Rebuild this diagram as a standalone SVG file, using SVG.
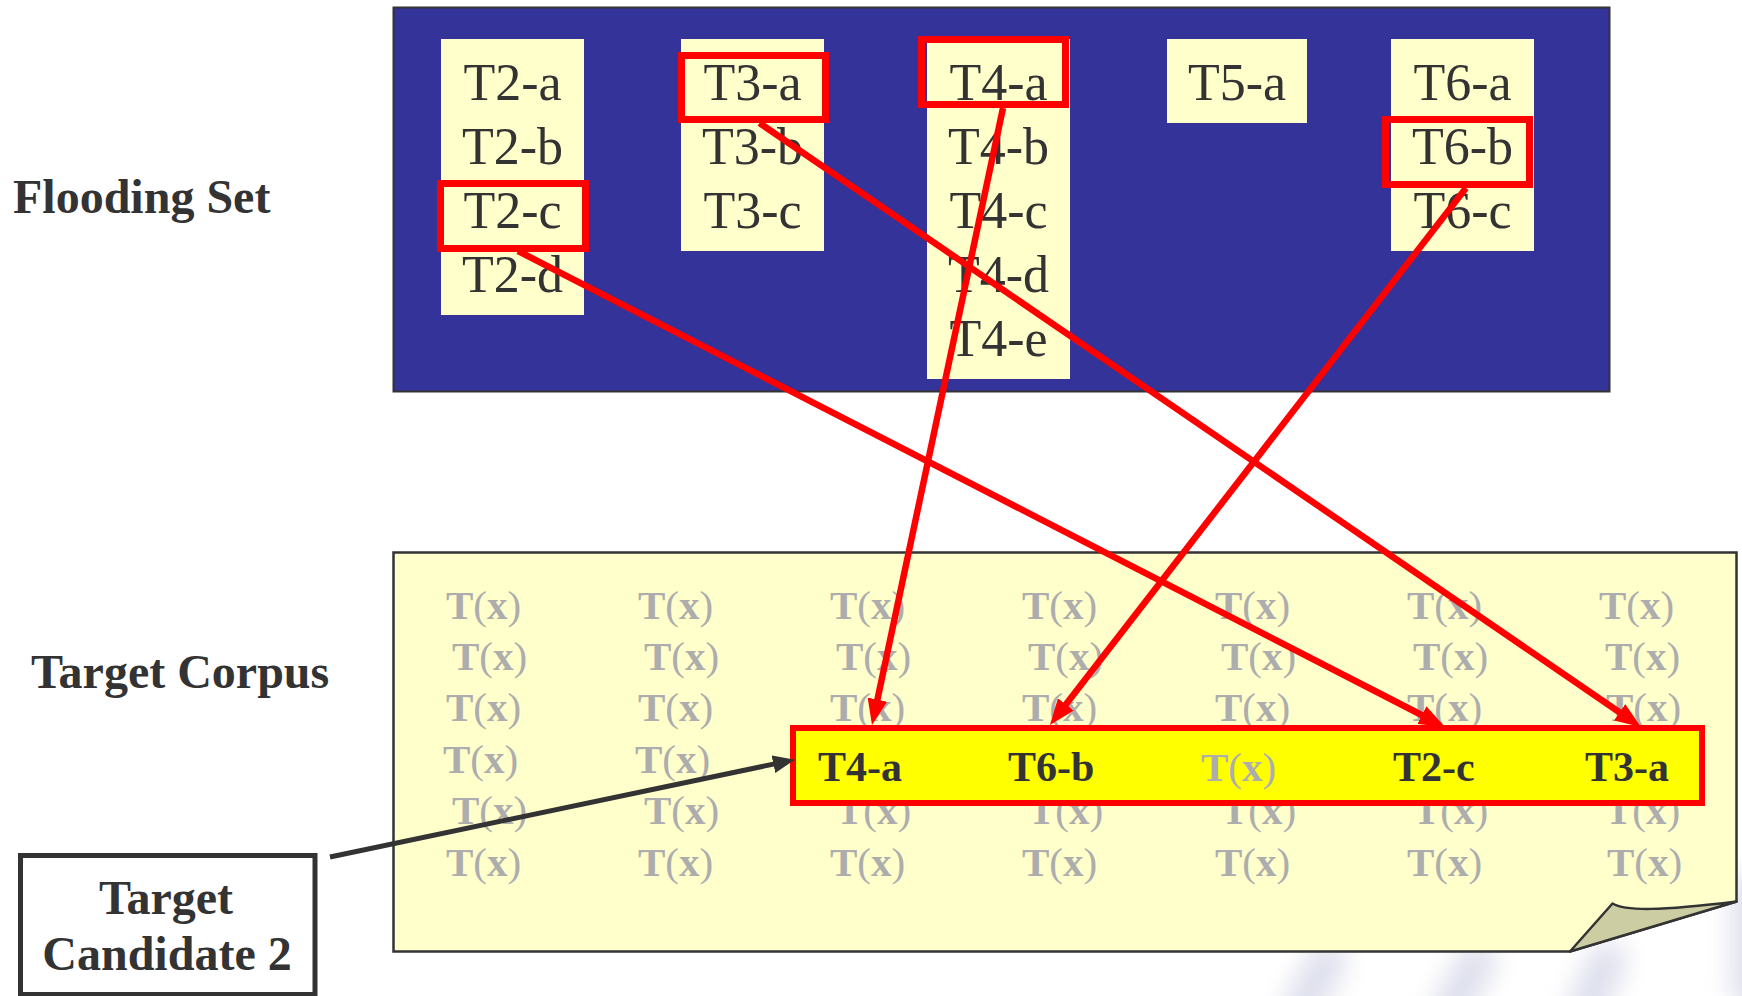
<svg xmlns="http://www.w3.org/2000/svg" width="1742" height="996" viewBox="0 0 1742 996">
<defs>
<style>
.lbl{font-family:"Liberation Serif","Times New Roman",serif;font-weight:bold;font-size:48px;fill:#333333}
.ft{font-family:"Liberation Serif","Times New Roman",serif;font-size:52px;fill:#333333;text-anchor:middle}
.col{fill:#FFFFCC}
.sel{fill:none;stroke:#FF0000;stroke-width:7}
.tx{font-family:"Liberation Serif","Times New Roman",serif;font-weight:bold;font-size:41px;fill:#ADADAD}
.tx .p{font-weight:normal}
.bt{font-family:"Liberation Serif","Times New Roman",serif;font-weight:bold;font-size:42px;fill:#333333}
.red{stroke:#FF0000;stroke-width:6.5;fill:none}
.blk{stroke:#333333;stroke-width:5;fill:none}
</style>
<marker id="ar" markerUnits="userSpaceOnUse" markerWidth="26" markerHeight="20" refX="14" refY="10" orient="auto">
<path d="M0,0 L26,10 L0,20 Z" fill="#FF0000"/>
</marker>
<marker id="ab" markerUnits="userSpaceOnUse" markerWidth="22" markerHeight="18" refX="10" refY="9" orient="auto">
<path d="M0,0 L22,9 L0,18 Z" fill="#333333"/>
</marker>
<filter id="blur" x="-100%" y="-100%" width="300%" height="300%"><feGaussianBlur stdDeviation="13"/></filter>
</defs>
<rect width="1742" height="996" fill="#FFFFFF"/>

<g id="watermark" filter="url(#blur)" stroke="#D6D8E8" stroke-width="36" stroke-linecap="round" opacity="0.85">
<line x1="1300" y1="1010" x2="1328" y2="960"/>
<line x1="1450" y1="1010" x2="1478" y2="960"/>
<line x1="1585" y1="1010" x2="1608" y2="960"/>
<line x1="1750" y1="990" x2="1750" y2="890"/>
</g>

<g id="label-flooding"><text class="lbl" x="13" y="213">Flooding Set</text></g>
<g id="label-corpus"><text class="lbl" x="31" y="688">Target Corpus</text></g>

<g id="flooding-set">
<rect x="393.5" y="7.5" width="1216" height="384" fill="#333399" stroke="#333333" stroke-width="2"/>
</g>

<g id="T2">
<rect class="col" x="441" y="39" width="143" height="276"/>
<text class="ft" x="512.5" y="100">T2-a</text>
<text class="ft" x="512.5" y="164">T2-b</text>
<text class="ft" x="512.5" y="228">T2-c</text>
<text class="ft" x="512.5" y="292">T2-d</text>
<rect class="sel" x="440.5" y="183.5" width="145" height="65"/>
</g>
<g id="T3">
<rect class="col" x="681" y="39" width="143" height="212"/>
<text class="ft" x="752.5" y="100">T3-a</text>
<text class="ft" x="752.5" y="164">T3-b</text>
<text class="ft" x="752.5" y="228">T3-c</text>
<rect class="sel" x="681.5" y="55.5" width="144" height="64"/>
</g>
<g id="T4">
<rect class="col" x="927" y="39" width="143" height="340"/>
<text class="ft" x="998.5" y="100">T4-a</text>
<text class="ft" x="998.5" y="164">T4-b</text>
<text class="ft" x="998.5" y="228">T4-c</text>
<text class="ft" x="998.5" y="292">T4-d</text>
<text class="ft" x="998.5" y="356">T4-e</text>
<rect class="sel" x="921.5" y="39.5" width="144" height="65"/>
</g>
<g id="T5">
<rect class="col" x="1167" y="39" width="140" height="84"/>
<text class="ft" x="1237" y="100">T5-a</text>
</g>
<g id="T6">
<rect class="col" x="1391" y="39" width="143" height="212"/>
<text class="ft" x="1462.5" y="100">T6-a</text>
<text class="ft" x="1462.5" y="164">T6-b</text>
<text class="ft" x="1462.5" y="228">T6-c</text>
<rect class="sel" x="1385.5" y="119.5" width="144" height="65"/>
</g>

<g id="target-corpus">
<path d="M393.5,552.5 H1736.5 V901.5 L1570,951.5 H393.5 Z" fill="#FFFFCC" stroke="#333333" stroke-width="2.5"/>
<path d="M1570,951.5 L1612.5,903.5 C1625,911 1660,911 1736.5,901.5 Z" fill="#CDCDA4" stroke="#333333" stroke-width="2.5" stroke-linejoin="round"/>
<g id="grid">
<text class="tx" x="446" y="619">T<tspan class="p">(</tspan>x<tspan class="p">)</tspan></text>
<text class="tx" x="638" y="619">T<tspan class="p">(</tspan>x<tspan class="p">)</tspan></text>
<text class="tx" x="830" y="619">T<tspan class="p">(</tspan>x<tspan class="p">)</tspan></text>
<text class="tx" x="1022" y="619">T<tspan class="p">(</tspan>x<tspan class="p">)</tspan></text>
<text class="tx" x="1215" y="619">T<tspan class="p">(</tspan>x<tspan class="p">)</tspan></text>
<text class="tx" x="1407" y="619">T<tspan class="p">(</tspan>x<tspan class="p">)</tspan></text>
<text class="tx" x="1599" y="619">T<tspan class="p">(</tspan>x<tspan class="p">)</tspan></text>

<text class="tx" x="452" y="670">T<tspan class="p">(</tspan>x<tspan class="p">)</tspan></text>
<text class="tx" x="644" y="670">T<tspan class="p">(</tspan>x<tspan class="p">)</tspan></text>
<text class="tx" x="836" y="670">T<tspan class="p">(</tspan>x<tspan class="p">)</tspan></text>
<text class="tx" x="1028" y="670">T<tspan class="p">(</tspan>x<tspan class="p">)</tspan></text>
<text class="tx" x="1221" y="670">T<tspan class="p">(</tspan>x<tspan class="p">)</tspan></text>
<text class="tx" x="1413" y="670">T<tspan class="p">(</tspan>x<tspan class="p">)</tspan></text>
<text class="tx" x="1605" y="670">T<tspan class="p">(</tspan>x<tspan class="p">)</tspan></text>

<text class="tx" x="446" y="721">T<tspan class="p">(</tspan>x<tspan class="p">)</tspan></text>
<text class="tx" x="638" y="721">T<tspan class="p">(</tspan>x<tspan class="p">)</tspan></text>
<text class="tx" x="830" y="721">T<tspan class="p">(</tspan>x<tspan class="p">)</tspan></text>
<text class="tx" x="1022" y="721">T<tspan class="p">(</tspan>x<tspan class="p">)</tspan></text>
<text class="tx" x="1215" y="721">T<tspan class="p">(</tspan>x<tspan class="p">)</tspan></text>
<text class="tx" x="1407" y="721">T<tspan class="p">(</tspan>x<tspan class="p">)</tspan></text>
<text class="tx" x="1606" y="721">T<tspan class="p">(</tspan>x<tspan class="p">)</tspan></text>

<text class="tx" x="443" y="773">T<tspan class="p">(</tspan>x<tspan class="p">)</tspan></text>
<text class="tx" x="635" y="773">T<tspan class="p">(</tspan>x<tspan class="p">)</tspan></text>

<text class="tx" x="452" y="824">T<tspan class="p">(</tspan>x<tspan class="p">)</tspan></text>
<text class="tx" x="644" y="824">T<tspan class="p">(</tspan>x<tspan class="p">)</tspan></text>
<text class="tx" x="836" y="824">T<tspan class="p">(</tspan>x<tspan class="p">)</tspan></text>
<text class="tx" x="1028" y="824">T<tspan class="p">(</tspan>x<tspan class="p">)</tspan></text>
<text class="tx" x="1221" y="824">T<tspan class="p">(</tspan>x<tspan class="p">)</tspan></text>
<text class="tx" x="1413" y="824">T<tspan class="p">(</tspan>x<tspan class="p">)</tspan></text>
<text class="tx" x="1605" y="824">T<tspan class="p">(</tspan>x<tspan class="p">)</tspan></text>

<text class="tx" x="446" y="876">T<tspan class="p">(</tspan>x<tspan class="p">)</tspan></text>
<text class="tx" x="638" y="876">T<tspan class="p">(</tspan>x<tspan class="p">)</tspan></text>
<text class="tx" x="830" y="876">T<tspan class="p">(</tspan>x<tspan class="p">)</tspan></text>
<text class="tx" x="1022" y="876">T<tspan class="p">(</tspan>x<tspan class="p">)</tspan></text>
<text class="tx" x="1215" y="876">T<tspan class="p">(</tspan>x<tspan class="p">)</tspan></text>
<text class="tx" x="1407" y="876">T<tspan class="p">(</tspan>x<tspan class="p">)</tspan></text>
<text class="tx" x="1607" y="876">T<tspan class="p">(</tspan>x<tspan class="p">)</tspan></text>
</g>
</g>

<g id="candidate-bar">
<rect x="793" y="728" width="909" height="75" fill="#FFFF00" stroke="#FF0000" stroke-width="6"/>
<text class="bt" x="818" y="781">T4-a</text>
<text class="bt" x="1008" y="781">T6-b</text>
<text class="tx" x="1201" y="781">T<tspan class="p">(</tspan>x<tspan class="p">)</tspan></text>
<text class="bt" x="1393" y="781">T2-c</text>
<text class="bt" x="1585" y="781">T3-a</text>
</g>

<g id="target-candidate-2">
<rect x="20.5" y="855.5" width="294.5" height="139" fill="#FFFFFF" stroke="#333333" stroke-width="5"/>
<text class="lbl" x="166" y="914" text-anchor="middle">Target</text>
<text class="lbl" x="167" y="970" text-anchor="middle">Candidate 2</text>
</g>

<g id="connectors">
<line class="red" x1="518" y1="251" x2="1434.3" y2="721.5" marker-end="url(#ar)"/>
<line class="red" x1="759.5" y1="123" x2="1631.1" y2="720.2" marker-end="url(#ar)"/>
<line class="red" x1="1003" y1="108" x2="874.5" y2="713.3" marker-end="url(#ar)"/>
<line class="red" x1="1466" y1="188" x2="1057.3" y2="715.5" marker-end="url(#ar)"/>
<line class="blk" x1="330" y1="857" x2="783.2" y2="762.1" marker-end="url(#ab)"/>
</g>
</svg>
